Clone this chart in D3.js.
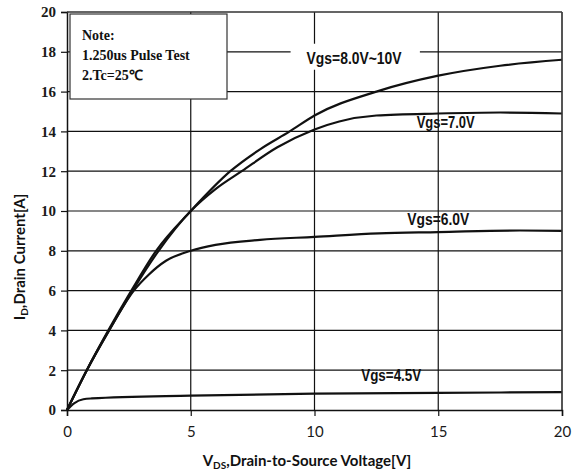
<!DOCTYPE html>
<html>
<head>
<meta charset="utf-8">
<script src="https://cdn.jsdelivr.net/npm/d3@7"></script>
<style>
  body { margin: 0; background: #fff; }
  .ytick text { font-family: "Liberation Serif", "Times New Roman", serif; font-weight: bold; font-size: 15px; }
  .xtick text { font-family: Lato, "Open Sans", sans-serif; font-size: 15px; }
  .curve-label { font-family: "Liberation Sans Narrow", "Arial Narrow", "Liberation Sans", sans-serif; font-weight: bold; font-size: 16px; }
  .note { font-family: "Liberation Serif", "Times New Roman", serif; font-weight: bold; font-size: 14px; }
  .axis-title { font-family: Lato, "Open Sans", sans-serif; font-weight: bold; font-size: 15px; }
</style>
</head>
<body>
<svg class="chart" width="573" height="475"></svg>
<script>
// values: [Vds, Id]
const vgs10 = [[0,0],[0.8,2],[1.67,4],[2.6,6],[3.6,8],[5,10],[6.6,12],[7.8,13.1],[9,14],[10,14.8],[12.5,16.0],[15,16.8],[17.5,17.3],[20,17.6]];
const vgs7 = [[0,0],[0.8,2],[1.7,4],[2.65,6],[3.7,8],[5,10],[6,11.1],[7.06,12],[8.5,13.2],[10,14.1],[11,14.5],[12.5,14.8],[15,14.9],[17.5,14.95],[20,14.9]];
const vgs6 = [[0,0],[0.8,2],[1.7,4],[2.7,6],[3.3,6.8],[4,7.5],[5,8.0],[6,8.3],[7.8,8.55],[10,8.7],[12.6,8.88],[15,8.94],[18.3,9.02],[20,9.0]];
const vgs45 = [[0,0],[0.3,0.35],[0.66,0.54],[1,0.58],[5,0.72],[10,0.82],[15,0.86],[20,0.9]];

const curveLabels = ["Vgs=8.0V~10V", "Vgs=7.0V", "Vgs=6.0V", "Vgs=4.5V"];
const labelSpots = [[11.6, 17.4], [15.3, 14.15], [15.0, 9.3], [13.1, 1.45]];
const labelWidths = [95, 58, 62, 60];
const noteLines = ["Note:", "1.250us Pulse Test", "2.Tc=25\u2103"];

const xTicks = [0, 5, 10, 15, 20];
const yTicks = [0, 2, 4, 6, 8, 10, 12, 14, 16, 18, 20];

const margin = {left: 67, top: 12, right: 11, bottom: 65};
const svg = d3.select(".chart");
const width = 573 - margin.left - margin.right;
const height = 475 - margin.top - margin.bottom;

const x = d3.scaleLinear().domain([0, 20]).range([0, width]);
const y = d3.scaleLinear().domain([0, 20]).range([height, 0]);

const g = svg.append("g").attr("transform", "translate(" + margin.left + "," + margin.top + ")");

// grid
g.append("g").selectAll("line").data(yTicks.slice(1))
  .enter().append("line")
  .attr("x1", 0).attr("x2", width)
  .attr("y1", d => y(d)).attr("y2", d => y(d))
  .attr("stroke", "#111").attr("stroke-width", 1.2);
g.append("g").selectAll("line").data(xTicks.slice(1))
  .enter().append("line")
  .attr("y1", 0).attr("y2", height)
  .attr("x1", d => x(d)).attr("x2", d => x(d))
  .attr("stroke", "#111").attr("stroke-width", 1.2);

// axes
const xAxis = g.append("g").attr("class", "xtick")
  .attr("transform", "translate(0," + height + ")")
  .call(d3.axisBottom(x).tickValues(xTicks).tickSize(6).tickPadding(10));
const yAxis = g.append("g").attr("class", "ytick")
  .call(d3.axisLeft(y).tickValues(yTicks).tickSize(6).tickPadding(5));
[xAxis, yAxis].forEach(a => {
  a.select(".domain").attr("stroke", "#111").attr("stroke-width", 1.5);
  a.selectAll(".tick line").attr("stroke", "#111").attr("stroke-width", 1.2);
  a.selectAll(".tick text").attr("fill", "#1a1a1a");
});

// curves
const line = d3.line().x(d => x(d[0])).y(d => y(d[1])).curve(d3.curveMonotoneX);
[vgs10, vgs7, vgs6, vgs45].forEach(s => {
  g.append("path").datum(s).attr("d", line)
    .attr("fill", "none").attr("stroke", "#111").attr("stroke-width", 2.2);
});

// curve labels (first one sits on a white patch)
curveLabels.forEach((t, i) => {
  const tx = g.append("text").attr("class", "curve-label")
    .attr("x", x(labelSpots[i][0]) - labelWidths[i] / 2).attr("y", y(labelSpots[i][1]))
    .attr("textLength", labelWidths[i]).attr("lengthAdjust", "spacingAndGlyphs")
    .attr("fill", "#111").text(t);
  if (i === 0) {
    const b = tx.node().getBBox();
    g.insert("rect", function() { return tx.node(); })
      .attr("x", b.x - 16).attr("y", b.y - 6).attr("width", b.width + 34).attr("height", b.height + 9)
      .attr("fill", "#fff");
  }
});

// note box
g.append("rect").attr("x", 3).attr("y", 2).attr("width", 157).attr("height", 85)
  .attr("fill", "#fff").attr("stroke", "#333").attr("stroke-width", 1.2);
g.append("g").selectAll("text").data(noteLines)
  .enter().append("text").attr("class", "note")
  .attr("x", 15).attr("y", (d, i) => 28 + i * 20)
  .attr("fill", "#111").text(d => d);

// axis titles
const xt = svg.append("text").attr("class", "axis-title")
  .attr("x", 307).attr("y", 466).attr("text-anchor", "middle").attr("fill", "#111");
xt.append("tspan").text("V");
xt.append("tspan").attr("font-size", "10px").attr("dy", 3).text("DS");
xt.append("tspan").attr("dy", -3).text(",Drain-to-Source Voltage[V]");

const yt = svg.append("text").attr("class", "axis-title")
  .attr("transform", "translate(25," + (margin.top + height / 2 + 46) + ") rotate(-90)")
  .attr("text-anchor", "middle").attr("fill", "#111");
yt.append("tspan").text("I");
yt.append("tspan").attr("font-size", "10px").attr("dy", 3).text("D");
yt.append("tspan").attr("dy", -3).text(",Drain Current[A]");

// frame top/right
g.append("line").attr("x1", 0).attr("x2", width).attr("y1", 0).attr("y2", 0).attr("stroke", "#444").attr("stroke-width", 1.2);
g.append("line").attr("x1", width).attr("x2", width).attr("y1", 0).attr("y2", height).attr("stroke", "#444").attr("stroke-width", 1.2);
</script>
</body>
</html>
